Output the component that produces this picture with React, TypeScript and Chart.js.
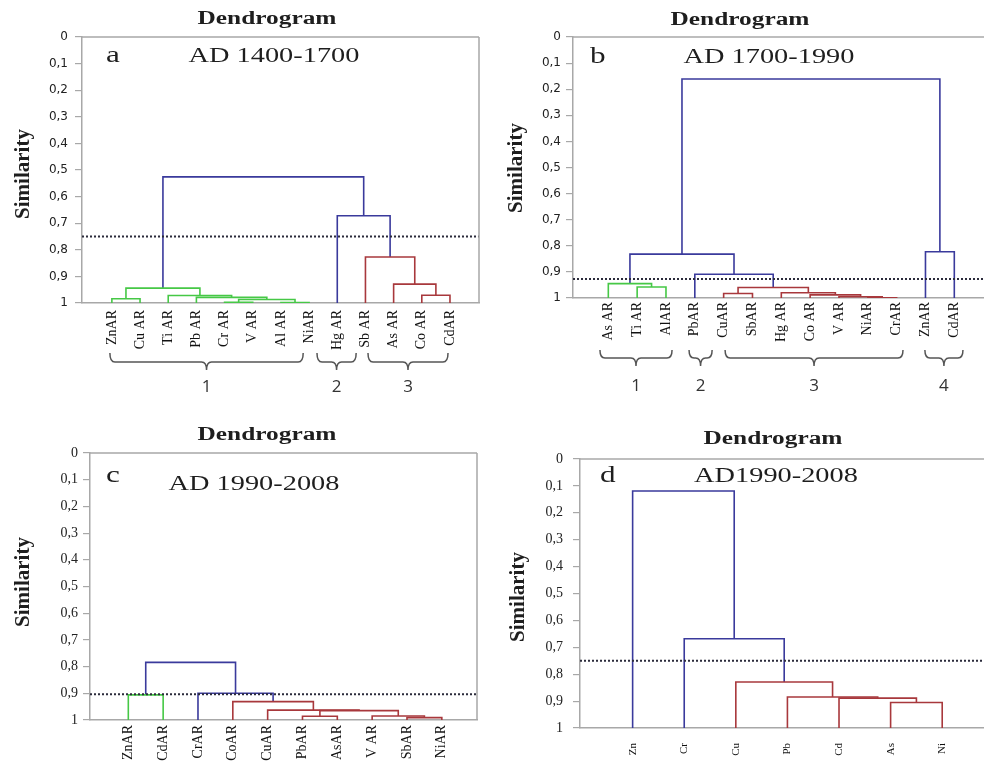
import React, { useEffect, useRef } from "react";
import { Chart, registerables } from "chart.js";
Chart.register(...registerables);

type Merge = [number, number, number];
type Group = { label: string; from: number; to: number };

// ---------- DATA ----------
const leavesA = ["ZnAR", "Cu AR", "Ti AR", "Pb AR", "Cr AR", "V AR", "Al AR", "NiAR", "Hg AR", "Sb AR", "As AR", "Co AR", "CdAR"];
const mergesA: Merge[] = [
  [0, 1, 0.984], [4, 5, 0.997], [6, 7, 0.998], [14, 15, 0.987], [3, 16, 0.979], [2, 17, 0.972],
  [13, 18, 0.944], [11, 12, 0.971], [10, 20, 0.929], [9, 21, 0.827], [8, 22, 0.672], [19, 23, 0.526],
];
const cutA = 0.75;
const groupsA: Group[] = [
  { label: "1", from: 0.93, to: 7.79 },
  { label: "2", from: 8.28, to: 9.67 },
  { label: "3", from: 10.09, to: 12.93 },
];

const leavesB = ["As AR", "Ti AR", "AlAR", "PbAR", "CuAR", "SbAR", "Hg AR", "Co AR", "V AR", "NiAR", "CrAR", "ZnAR", "CdAR"];
const mergesB: Merge[] = [
  [1, 2, 0.958], [0, 13, 0.945], [9, 10, 0.999], [8, 15, 0.995], [7, 16, 0.988], [6, 17, 0.98],
  [4, 5, 0.983], [19, 18, 0.96], [3, 20, 0.909], [14, 21, 0.832], [11, 12, 0.823], [22, 23, 0.161],
];
const cutB = 0.927;
const groupsB: Group[] = [
  { label: "1", from: 0.71, to: 3.21 },
  { label: "2", from: 3.8, to: 4.6 },
  { label: "3", from: 5.05, to: 11.22 },
  { label: "4", from: 11.98, to: 13.3 },
];

const leavesC = ["ZnAR", "CdAR", "CrAR", "CoAR", "CuAR", "PbAR", "AsAR", "V AR", "SbAR", "NiAR"];
const mergesC: Merge[] = [
  [0, 1, 0.906], [5, 6, 0.986], [8, 9, 0.991], [7, 12, 0.985], [11, 13, 0.965], [4, 14, 0.963],
  [3, 15, 0.931], [2, 16, 0.9], [10, 17, 0.784],
];
const cutC = 0.904;

const leavesD = ["Zn", "Cr", "Cu", "Pb", "Cd", "As", "Ni"];
const mergesD: Merge[] = [
  [5, 6, 0.905], [4, 7, 0.889], [3, 8, 0.885], [2, 9, 0.829], [1, 10, 0.668], [0, 11, 0.119],
];
const cutD = 0.75;

const yTickValues = [0, 0.1, 0.2, 0.3, 0.4, 0.5, 0.6, 0.7, 0.8, 0.9, 1];

// ---------- STYLE ----------
const BLUE = "#3a3a9c";
const GREEN = "#46c846";
const RED = "#a8383c";
const GREY = "#a8a8a8";
const DOT = "#2b2b3b";
const SERIF = "'Liberation Serif', 'Times New Roman', serif";
const SANS = "'DejaVu Sans', sans-serif";

interface Layout {
  left: number; top: number; w: number; h: number;
  area: { left: number; top: number; right: number; bottom: number };
  xMin: number; xMax: number;
  title: [number, number]; letter: [number, number]; period: [number, number]; sim: [number, number];
  yFont: { family: string; size: number }; yPad: number;
  xFontSize: number; xPad: number;
  bracket?: { top: number; mid: number; tip: number; numY: number };
  rightBorder: boolean;
}

interface PanelCfg {
  leaves: string[]; merges: Merge[]; cut: number; palette: string[];
  letter: string; period: string; groups?: Group[]; layout: Layout;
}

const panels: PanelCfg[] = [
  {
    leaves: leavesA, merges: mergesA, cut: cutA, palette: [GREEN, RED], letter: "a", period: "AD 1400-1700", groups: groupsA,
    layout: {
      left: 0, top: 0, w: 490, h: 400, area: { left: 82, top: 37, right: 479, bottom: 303 }, xMin: -0.06, xMax: 14.03,
      title: [267, 24], letter: [106, 62], period: [274, 62], sim: [24, 174],
      yFont: { family: SANS, size: 12 }, yPad: 7, xFontSize: 14, xPad: 7,
      bracket: { top: 353, mid: 362, tip: 370, numY: 392 }, rightBorder: true,
    },
  },
  {
    leaves: leavesB, merges: mergesB, cut: cutB, palette: [GREEN, RED], letter: "b", period: "AD 1700-1990", groups: groupsB,
    layout: {
      left: 490, top: 0, w: 494, h: 400, area: { left: 83, top: 37, right: 494, bottom: 298 }, xMin: -0.225, xMax: 14.03,
      title: [250, 25], letter: [100, 63], period: [279, 63], sim: [27, 168],
      yFont: { family: SANS, size: 12 }, yPad: 5, xFontSize: 14, xPad: 4,
      bracket: { top: 350, mid: 358, tip: 366, numY: 391 }, rightBorder: false,
    },
  },
  {
    leaves: leavesC, merges: mergesC, cut: cutC, palette: [GREEN, RED], letter: "c", period: "AD 1990-2008",
    layout: {
      left: 0, top: 400, w: 490, h: 367, area: { left: 90, top: 53, right: 477, bottom: 320 }, xMin: -0.1, xMax: 11.01,
      title: [267, 40], letter: [106, 82], period: [254, 90], sim: [24, 182],
      yFont: { family: SERIF, size: 14 }, yPad: 5, xFontSize: 14, xPad: 5, rightBorder: true,
    },
  },
  {
    leaves: leavesD, merges: mergesD, cut: cutD, palette: [RED], letter: "d", period: "AD1990-2008",
    layout: {
      left: 490, top: 400, w: 494, h: 367, area: { left: 90, top: 59, right: 494, bottom: 328 }, xMin: -0.02, xMax: 7.81,
      title: [283, 44], letter: [110, 82], period: [286, 82], sim: [29, 197],
      yFont: { family: SERIF, size: 14 }, yPad: 10, xFontSize: 11, xPad: 15, rightBorder: false,
    },
  },
];

// ---------- TREE HELPERS ----------
function buildTree(leaves: string[], merges: Merge[]) {
  const xs = leaves.map((_, i) => i + 1);
  const hs = leaves.map(() => 1);
  merges.forEach(([l, r, h]) => {
    xs.push((xs[l] + xs[r]) / 2);
    hs.push(h);
  });
  return { xs, hs };
}

function colorLinks(nLeaves: number, merges: Merge[], cut: number, palette: string[]) {
  const colors: string[] = new Array(merges.length).fill(BLUE);
  let next = 0;
  const visit = (id: number, inherited: string | null) => {
    if (id < nLeaves) return;
    const k = id - nLeaves;
    const [l, r, h] = merges[k];
    let c = inherited;
    if (!c && h >= cut) c = palette[next++ % palette.length];
    colors[k] = c ?? BLUE;
    visit(l, c);
    visit(r, c);
  };
  visit(nLeaves + merges.length - 1, null);
  return colors;
}

function fmtTick(v: number) {
  const r = Math.round(v * 10) / 10;
  if (r === 0) return "0";
  if (r === 1) return "1";
  return r.toFixed(1).replace(".", ",");
}

function stretchText(ctx: CanvasRenderingContext2D, text: string, x: number, y: number, font: string, sx: number, align: CanvasTextAlign) {
  ctx.save();
  ctx.font = font;
  ctx.textAlign = align;
  ctx.textBaseline = "alphabetic";
  ctx.fillStyle = "#1e1e1e";
  ctx.translate(x, y);
  ctx.scale(sx, 1);
  ctx.fillText(text, 0, 0);
  ctx.restore();
}

function Panel({ cfg }: { cfg: PanelCfg }) {
  const ref = useRef<HTMLCanvasElement | null>(null);
  useEffect(() => {
    const canvas = ref.current;
    if (!canvas) return;
    const L = cfg.layout;
    const { xs, hs } = buildTree(cfg.leaves, cfg.merges);
    const colors = colorLinks(cfg.leaves.length, cfg.merges, cfg.cut, cfg.palette);
    const datasets: any[] = cfg.merges.map(([l, r, h], k) => ({
      data: [
        { x: xs[l], y: hs[l] },
        { x: xs[l], y: h },
        { x: xs[r], y: h },
        { x: xs[r], y: hs[r] },
      ],
      showLine: true,
      borderColor: colors[k],
      borderWidth: 1.6,
      pointRadius: 0,
      tension: 0,
      fill: false,
      order: 1,
    }));
    datasets.push({
      data: [
        { x: L.xMin, y: cfg.cut },
        { x: L.xMax, y: cfg.cut },
      ],
      showLine: true,
      borderColor: DOT,
      borderWidth: 2,
      borderDash: [2, 2],
      pointRadius: 0,
      fill: false,
      order: 0,
    });

    const decor = {
      id: "decor",
      afterDraw(chart: any) {
        const ctx: CanvasRenderingContext2D = chart.ctx;
        const ca = chart.chartArea;
        ctx.save();
        ctx.strokeStyle = GREY;
        ctx.lineWidth = 1.5;
        ctx.beginPath();
        ctx.moveTo(ca.left, ca.top);
        ctx.lineTo(ca.right, ca.top);
        if (L.rightBorder) {
          ctx.moveTo(ca.right, ca.top);
          ctx.lineTo(ca.right, ca.bottom);
        }
        ctx.stroke();
        ctx.restore();

        stretchText(ctx, "Dendrogram", L.title[0], L.title[1], `bold 18.5px ${SERIF}`, 1.37, "center");
        stretchText(ctx, cfg.letter, L.letter[0], L.letter[1], `24px ${SERIF}`, 1.3, "left");
        stretchText(ctx, cfg.period, L.period[0], L.period[1], `21px ${SERIF}`, 1.35, "center");

        ctx.save();
        ctx.translate(L.sim[0], L.sim[1]);
        ctx.rotate(-Math.PI / 2);
        ctx.font = `bold 21px ${SERIF}`;
        ctx.fillStyle = "#1e1e1e";
        ctx.textAlign = "center";
        ctx.textBaseline = "middle";
        ctx.fillText("Similarity", 0, 0);
        ctx.restore();

        if (cfg.groups && L.bracket) {
          const b = L.bracket;
          const xScale = chart.scales.x;
          ctx.save();
          ctx.strokeStyle = "#555";
          ctx.lineWidth = 1.5;
          ctx.fillStyle = "#333";
          ctx.font = `17px 'Open Sans', sans-serif`;
          ctx.textAlign = "center";
          ctx.textBaseline = "alphabetic";
          cfg.groups.forEach((g) => {
            const x0 = xScale.getPixelForValue(g.from);
            const x1 = xScale.getPixelForValue(g.to);
            const xc = (x0 + x1) / 2;
            const r = 5;
            ctx.beginPath();
            ctx.moveTo(x0, b.top);
            ctx.quadraticCurveTo(x0, b.mid, x0 + r, b.mid);
            ctx.lineTo(xc - r, b.mid);
            ctx.quadraticCurveTo(xc, b.mid, xc, b.tip);
            ctx.moveTo(xc, b.tip);
            ctx.quadraticCurveTo(xc, b.mid, xc + r, b.mid);
            ctx.lineTo(x1 - r, b.mid);
            ctx.quadraticCurveTo(x1, b.mid, x1, b.top);
            ctx.stroke();
            ctx.fillText(g.label, xc, b.numY);
          });
          ctx.restore();
        }
      },
    };

    const leafTicks = cfg.leaves.map((_, i) => i + 1);
    const chart = new Chart(canvas, {
      type: "scatter",
      data: { datasets },
      options: {
        responsive: false,
        animation: false,
        events: [],
        layout: { padding: { top: L.area.top, right: L.w - L.area.right, left: 0, bottom: 0 } },
        plugins: { legend: { display: false }, tooltip: { enabled: false }, title: { display: false } },
        scales: {
          x: {
            type: "linear",
            position: "bottom",
            min: L.xMin,
            max: L.xMax,
            grid: { display: false, drawTicks: false },
            border: { display: true, color: GREY, width: 1.5 },
            afterBuildTicks: (scale: any) => {
              scale.ticks = leafTicks.map((v) => ({ value: v }));
            },
            afterFit: (scale: any) => {
              scale.height = L.h - L.area.bottom;
            },
            ticks: {
              autoSkip: false,
              minRotation: 90,
              maxRotation: 90,
              padding: L.xPad,
              color: "#111",
              font: { family: SERIF, size: L.xFontSize },
              callback: (_v: any, i: number) => cfg.leaves[i],
            },
          },
          y: {
            type: "linear",
            position: "left",
            reverse: true,
            min: 0,
            max: 1,
            grid: { drawOnChartArea: false, drawTicks: true, tickLength: 7, color: GREY, lineWidth: 1.2 },
            border: { display: true, color: GREY, width: 1.5 },
            afterBuildTicks: (scale: any) => {
              scale.ticks = yTickValues.map((v) => ({ value: v }));
            },
            afterFit: (scale: any) => {
              scale.width = L.area.left;
            },
            ticks: {
              padding: L.yPad,
              color: "#222",
              font: L.yFont,
              callback: (v: any) => fmtTick(Number(v)),
            },
          },
        },
      } as any,
      plugins: [decor],
    });
    return () => chart.destroy();
  }, [cfg]);

  const L = cfg.layout;
  return (
    <canvas
      ref={ref}
      width={L.w}
      height={L.h}
      style={{ position: "absolute", left: L.left, top: L.top, width: L.w, height: L.h }}
    />
  );
}

export default function App() {
  return (
    <div style={{ position: "absolute", left: 0, top: 0, width: 984, height: 767, background: "#fff", overflow: "hidden" }}>
      {panels.map((p, i) => (
        <Panel key={i} cfg={p} />
      ))}
    </div>
  );
}
